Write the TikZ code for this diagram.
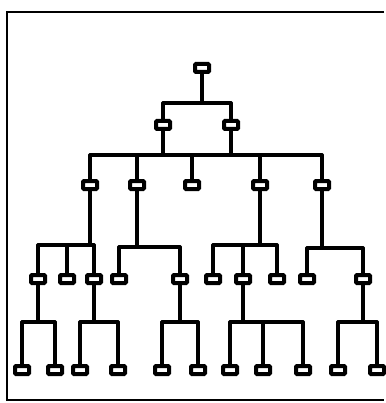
\documentclass[tikz,border=0pt]{standalone}
\begin{document}
\tikzset{
	unit/.style={draw, line width=4pt, fill=white, rounded corners=1pt, minimum width=14pt, minimum height=8pt, inner sep=0pt},
	wire/.style={line width=3.2pt, line cap=round, line join=round}
}
\begin{tikzpicture}[x=1pt, y=-1pt]
		\useasboundingbox (0,0) rectangle (385,403);
		\draw[line width=2pt] (384,12) -- (7,12) -- (7,400) -- (384,400);
		% nodes, top to bottom
		\node[unit] (n) at (202,68) {};
		\node[unit] (a1) at (163,125) {};
		\node[unit] (a2) at (231,125) {};
		\foreach \name/\x in {b1/90, b2/137, b3/192, b4/260, b5/322}
			\node[unit] (\name) at (\x,185) {};
		\foreach \name/\x in {c1/38, c2/67, c3/94, c4/119, c5/180, c6/213, c7/243, c8/277, c9/307, c10/363}
			\node[unit] (\name) at (\x,279) {};
		\foreach \name/\x in {d1/22, d2/55, d3/80, d4/118, d5/162, d6/198, d7/230, d8/263, d9/303, d10/338, d11/377}
			\node[unit] (\name) at (\x,370) {};
		% root
		\draw[wire] (n.south) -- (n |- 0,103);
		\draw[wire] (a1 |- 0,103) -- (a2 |- 0,103);
		\foreach \c in {a1,a2}
			\draw[wire] (\c.north) -- (\c |- 0,103);
		% second row, one shared bus
		\draw[wire] (b1 |- 0,155) -- (b5 |- 0,155);
		\foreach \c in {a1,a2}
			\draw[wire] (\c.south) -- (\c |- 0,155);
		\foreach \c in {b1,b2,b3,b4,b5}
			\draw[wire] (\c.north) -- (\c |- 0,155);
		% third row
		\foreach \p/\first/\last/\y in {b1/c1/c3/245, b2/c4/c5/247, b4/c6/c8/245, b5/c9/c10/248}{
			\draw[wire] (\p.south) -- (\p |- 0,\y);
			\draw[wire] (\first |- 0,\y) -- (\last |- 0,\y);
		}
		\foreach \c/\y in {c1/245, c2/245, c3/245, c4/247, c5/247, c6/245, c7/245, c8/245, c9/248, c10/248}
			\draw[wire] (\c.north) -- (\c |- 0,\y);
		% bottom row
		\foreach \p/\first/\last in {c1/d1/d2, c3/d3/d4, c5/d5/d6, c7/d7/d9, c10/d10/d11}{
			\draw[wire] (\p.south) -- (\p |- 0,322);
			\draw[wire] (\first |- 0,322) -- (\last |- 0,322);
		}
		\foreach \c in {d1,d2,d3,d4,d5,d6,d7,d8,d9,d10,d11}
			\draw[wire] (\c.north) -- (\c |- 0,322);
	\end{tikzpicture}
\end{document}
